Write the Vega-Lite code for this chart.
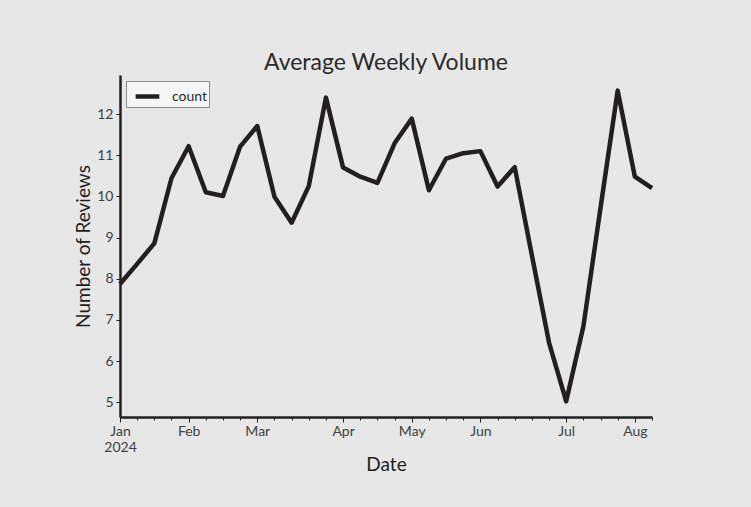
{
  "$schema": "https://vega.github.io/schema/vega-lite/v6.json",
  "width": 532,
  "height": 342,
  "autosize": {"type": "none"},
  "padding": {"left": 120, "top": 75, "right": 99, "bottom": 90},
  "background": "#e7e7e7",
  "config": {
    "view": {"stroke": null},
    "font": "Lato",
    "axis": {"labelFont": "Lato", "titleFont": "Lato", "grid": false}
  },
  "title": {
    "text": "Average Weekly Volume",
    "fontSize": 23,
    "fontWeight": "normal",
    "color": "#2b2b2b",
    "anchor": "middle",
    "offset": 0,
    "font": "Lato"
  },
  "data": {
    "values": [
      {"week": "2024-01-01", "count": 7.87},
      {"week": "2024-01-08", "count": 8.36},
      {"week": "2024-01-15", "count": 8.86},
      {"week": "2024-01-22", "count": 10.44},
      {"week": "2024-01-29", "count": 11.22},
      {"week": "2024-02-05", "count": 10.10},
      {"week": "2024-02-12", "count": 10.01},
      {"week": "2024-02-19", "count": 11.21},
      {"week": "2024-02-26", "count": 11.71},
      {"week": "2024-03-04", "count": 9.99},
      {"week": "2024-03-11", "count": 9.36},
      {"week": "2024-03-18", "count": 10.25},
      {"week": "2024-03-25", "count": 12.40},
      {"week": "2024-04-01", "count": 10.70},
      {"week": "2024-04-08", "count": 10.48},
      {"week": "2024-04-15", "count": 10.33},
      {"week": "2024-04-22", "count": 11.29},
      {"week": "2024-04-29", "count": 11.89},
      {"week": "2024-05-06", "count": 10.15},
      {"week": "2024-05-13", "count": 10.92},
      {"week": "2024-05-20", "count": 11.05},
      {"week": "2024-05-27", "count": 11.10},
      {"week": "2024-06-03", "count": 10.24},
      {"week": "2024-06-10", "count": 10.71},
      {"week": "2024-06-17", "count": 8.57},
      {"week": "2024-06-24", "count": 6.45},
      {"week": "2024-07-01", "count": 5.02},
      {"week": "2024-07-08", "count": 6.84},
      {"week": "2024-07-15", "count": 9.72},
      {"week": "2024-07-22", "count": 12.57},
      {"week": "2024-07-29", "count": 10.48},
      {"week": "2024-08-05", "count": 10.20}
    ]
  },
  "mark": {"type": "line", "strokeWidth": 4.5, "strokeJoin": "round", "strokeCap": "butt"},
  "encoding": {
    "x": {
      "field": "week",
      "type": "temporal",
      "scale": {
        "type": "utc",
        "domain": [
          {"year": 2024, "month": 1, "date": 1, "utc": true},
          {"year": 2024, "month": 8, "date": 5, "utc": true}
        ]
      },
      "axis": {
        "title": "Date",
        "titleFontSize": 19,
        "titleFontWeight": "normal",
        "titleColor": "#1e1e1e",
        "titlePadding": 1,
        "values": [
          {"year": 2024, "month": 1, "date": 1, "utc": true},
          {"year": 2024, "month": 1, "date": 8, "utc": true},
          {"year": 2024, "month": 1, "date": 15, "utc": true},
          {"year": 2024, "month": 1, "date": 22, "utc": true},
          {"year": 2024, "month": 1, "date": 29, "utc": true},
          {"year": 2024, "month": 2, "date": 5, "utc": true},
          {"year": 2024, "month": 2, "date": 12, "utc": true},
          {"year": 2024, "month": 2, "date": 19, "utc": true},
          {"year": 2024, "month": 2, "date": 26, "utc": true},
          {"year": 2024, "month": 3, "date": 4, "utc": true},
          {"year": 2024, "month": 3, "date": 11, "utc": true},
          {"year": 2024, "month": 3, "date": 18, "utc": true},
          {"year": 2024, "month": 3, "date": 25, "utc": true},
          {"year": 2024, "month": 4, "date": 1, "utc": true},
          {"year": 2024, "month": 4, "date": 8, "utc": true},
          {"year": 2024, "month": 4, "date": 15, "utc": true},
          {"year": 2024, "month": 4, "date": 22, "utc": true},
          {"year": 2024, "month": 4, "date": 29, "utc": true},
          {"year": 2024, "month": 5, "date": 6, "utc": true},
          {"year": 2024, "month": 5, "date": 13, "utc": true},
          {"year": 2024, "month": 5, "date": 20, "utc": true},
          {"year": 2024, "month": 5, "date": 27, "utc": true},
          {"year": 2024, "month": 6, "date": 3, "utc": true},
          {"year": 2024, "month": 6, "date": 10, "utc": true},
          {"year": 2024, "month": 6, "date": 17, "utc": true},
          {"year": 2024, "month": 6, "date": 24, "utc": true},
          {"year": 2024, "month": 7, "date": 1, "utc": true},
          {"year": 2024, "month": 7, "date": 8, "utc": true},
          {"year": 2024, "month": 7, "date": 15, "utc": true},
          {"year": 2024, "month": 7, "date": 22, "utc": true},
          {"year": 2024, "month": 7, "date": 29, "utc": true},
          {"year": 2024, "month": 8, "date": 5, "utc": true}
        ],
        "labelExpr": "utcFormat(datum.value + 518400000, '%m') != utcFormat(datum.value - 86400000, '%m') ? (utcFormat(datum.value + 518400000, '%m') == '01' ? [utcFormat(datum.value + 518400000, '%b'), '2024'] : utcFormat(datum.value + 518400000, '%b')) : ''",
        "labelFlush": false,
        "labelOverlap": false,
        "labelFontSize": 14,
        "labelColor": "#404040",
        "labelPadding": 2,
        "labelLineHeight": 16,
        "domainColor": "#231f20",
        "domainWidth": 2.5,
        "tickColor": "#231f20",
        "tickWidth": 1,
        "tickSize": {
          "condition": {"test": "utcFormat(datum.value + 518400000, '%m') != utcFormat(datum.value - 86400000, '%m')", "value": 5},
          "value": 3
        }
      }
    },
    "y": {
      "field": "count",
      "type": "quantitative",
      "scale": {"domain": [4.64, 12.95], "nice": false, "zero": false},
      "axis": {
        "title": "Number of Reviews",
        "titleFontSize": 19,
        "titleFontWeight": "normal",
        "titleColor": "#1e1e1e",
        "titlePadding": 3,
        "values": [5, 6, 7, 8, 9, 10, 11, 12],
        "labelFontSize": 14,
        "labelColor": "#404040",
        "labelPadding": 3,
        "domainColor": "#231f20",
        "domainWidth": 2.5,
        "tickColor": "#231f20",
        "tickWidth": 1,
        "tickSize": 4
      }
    },
    "color": {
      "datum": "count",
      "type": "nominal",
      "scale": {"range": ["#231f20"]},
      "legend": {
        "title": null,
        "orient": "top-left",
        "offset": 6,
        "padding": 1,
        "fillColor": "#f6f6f6",
        "strokeColor": "#8a8a8a",
        "symbolType": "stroke",
        "symbolStrokeWidth": 4.5,
        "symbolSize": 560,
        "labelFontSize": 14,
        "labelColor": "#2b2b2b",
        "labelFont": "Lato",
        "labelOffset": 10,
        "symbolOffset": 6,
        "labelExpr": "datum.label + '  '"
      }
    }
  }
}
